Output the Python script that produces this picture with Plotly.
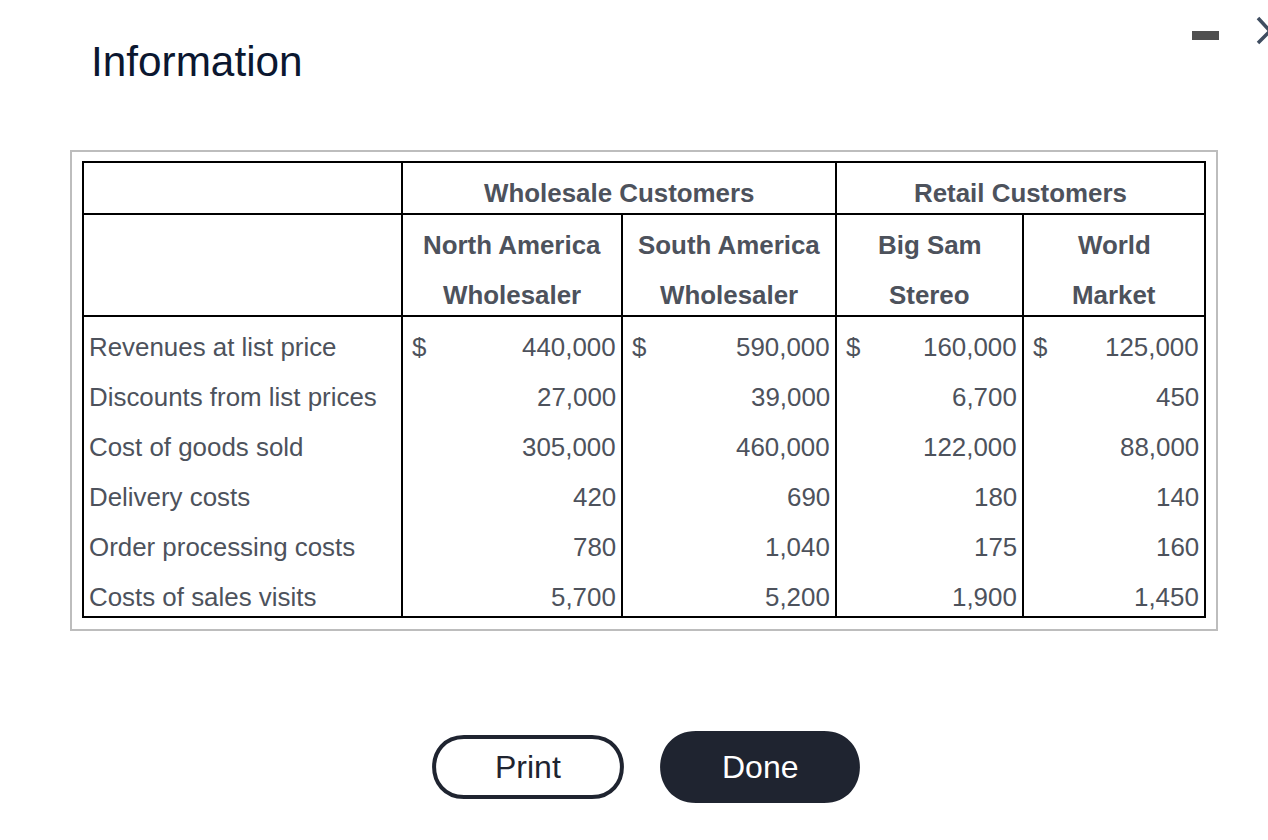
import plotly.graph_objects as go

# data
row_labels = ["Revenues at list price", "Discounts from list prices", "Cost of goods sold",
              "Delivery costs", "Order processing costs", "Costs of sales visits"]
group_labels = ["Wholesale Customers", "Retail Customers"]
customer_top = ["North America", "South America", "Big Sam", "World"]
customer_bottom = ["Wholesaler", "Wholesaler", "Stereo", "Market"]
north_america = [440000, 27000, 305000, 420, 780, 5700]
south_america = [590000, 39000, 460000, 690, 1040, 5200]
big_sam = [160000, 6700, 122000, 180, 175, 1900]
world_market = [125000, 450, 88000, 140, 160, 1450]

# layout of the table, in page pixels
W, H = 1268, 840
col_edges = [83, 402, 622, 836, 1023, 1205]
row_edges = [162, 214, 316, 617]
first_row_y, row_step = 347, 50
TEXT = "#4d525c"
DARK = "#1f2430"
FONT = "Liberation Sans"
SIZE = 25.9

fig = go.Figure()


def add_text(x, y, text, anchor="center", size=SIZE, color=TEXT):
    fig.add_annotation(x=x, y=y, text=text, showarrow=False, xanchor=anchor, yanchor="middle",
                       font=dict(family=FONT, size=size, color=color))


def add_line(x0, y0, x1, y1, color="#000000", width=2):
    fig.add_shape(type="line", x0=x0, y0=y0, x1=x1, y1=y1, line=dict(color=color, width=width))


def pill(x0, y0, x1, y1):
    # shapes do not draw arcs, so the round ends are two bezier curves
    r = (y1 - y0) / 2
    k = r * 1.33
    return (f"M {x0 + r} {y0} L {x1 - r} {y0} C {x1 - r + k} {y0} {x1 - r + k} {y1} {x1 - r} {y1} "
            f"L {x0 + r} {y1} C {x0 + r - k} {y1} {x0 + r - k} {y0} {x0 + r} {y0} Z")


# title and window controls
add_text(89, 61, "Information", "left", size=42.3, color="#0b1730")
fig.add_shape(type="rect", x0=1192, y0=31, x1=1219, y1=40, fillcolor="#505050", line_width=0)
fig.add_shape(type="path", path="M 1258 18 L 1270 31 L 1258 43",
              line=dict(color="#3f4d60", width=3.5))

# frame and grid
fig.add_shape(type="rect", x0=71, y0=151, x1=1217, y1=630, line=dict(color="#bdbdbd", width=2))
fig.add_shape(type="rect", x0=col_edges[0], y0=row_edges[0], x1=col_edges[-1], y1=row_edges[-1],
              line=dict(color="#000000", width=2))
for y in row_edges[1:-1]:
    add_line(col_edges[0], y, col_edges[-1], y)
for x in [col_edges[1], col_edges[3]]:
    add_line(x, row_edges[0], x, row_edges[-1])
for x in [col_edges[2], col_edges[4]]:
    add_line(x, row_edges[1], x, row_edges[-1])

# headers
add_text((col_edges[1] + col_edges[3]) / 2, 193, "<b>%s</b>" % group_labels[0])
add_text((col_edges[3] + col_edges[5]) / 2, 193, "<b>%s</b>" % group_labels[1])
for i in range(4):
    cx = (col_edges[i + 1] + col_edges[i + 2]) / 2
    add_text(cx, 245, "<b>%s</b>" % customer_top[i])
    add_text(cx, 295, "<b>%s</b>" % customer_bottom[i])

# body
columns = [north_america, south_america, big_sam, world_market]
for r, label in enumerate(row_labels):
    y = first_row_y + r * row_step
    add_text(col_edges[0] + 4, y, label, "left")
    for c, values in enumerate(columns):
        add_text(col_edges[c + 2] - 4, y, f"{values[r]:,}", "right")
        if r == 0:
            add_text(col_edges[c + 1] + 8, y, "$", "left")

# buttons
fig.add_shape(type="path", path=pill(434, 737, 622, 797), fillcolor="#ffffff",
              line=dict(color=DARK, width=4))
fig.add_shape(type="path", path=pill(660, 731, 860, 803), fillcolor=DARK, line_width=0)
add_text(528, 767, "Print", size=32, color=DARK)
add_text(760, 767, "Done", size=32, color="#ffffff")

fig.update_xaxes(range=[0, W], visible=False, fixedrange=True)
fig.update_yaxes(range=[H, 0], visible=False, fixedrange=True)
fig.update_layout(width=W, height=H, margin=dict(l=0, r=0, t=0, b=0), showlegend=False,
                  plot_bgcolor="#ffffff", paper_bgcolor="#ffffff")

fig.write_html("out.html", config={"displayModeBar": False},
               post_script="document.body.style.margin='0';document.body.style.overflow='hidden';")
